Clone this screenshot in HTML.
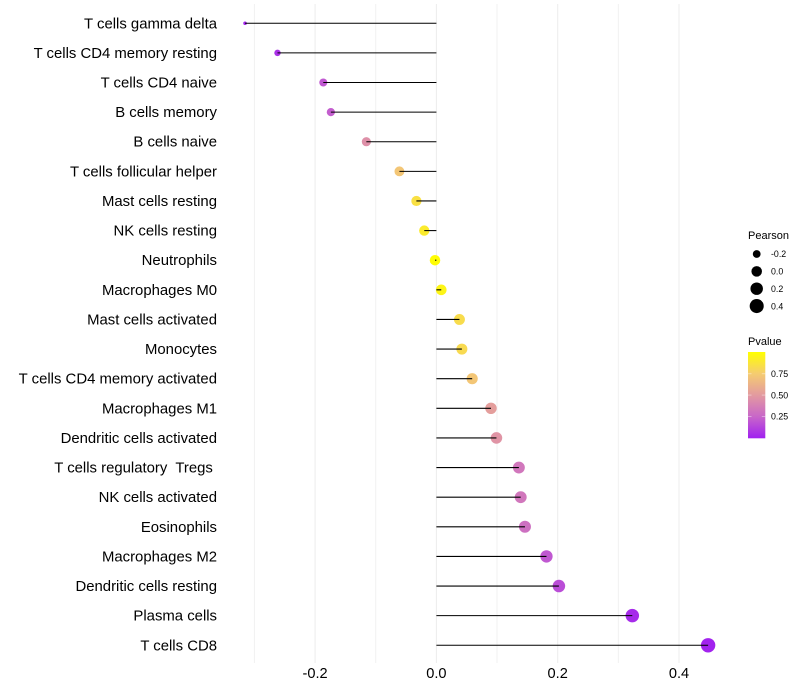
<!DOCTYPE html>
<html lang="en">
<head>
<meta charset="utf-8">
<title>Immune cell correlation lollipop chart</title>
<style>
  html, body { margin: 0; padding: 0; background: #fff; }
  svg { display: block; font-family: "Liberation Sans", Arial, sans-serif; }
  text { white-space: pre; }
</style>
</head>
<body>
<svg id="chart" width="800" height="700" viewBox="0 0 800 700">
  <g id="grid"></g>
  <g id="dots"></g>
  <g id="stems"></g>
  <g id="ylabels"></g>
  <g id="xlabels"></g>
  <g id="size-legend">
    <text x="748" y="239" font-size="11" fill="#000">Pearson</text>
  </g>
  <defs>
    <linearGradient id="pvalue-gradient" x1="0" y1="1" x2="0" y2="0"></linearGradient>
  </defs>
  <g id="color-legend">
    <text x="748" y="345" font-size="11" fill="#000">Pvalue</text>
    <rect x="748" y="352" width="17.3" height="86.3" fill="url(#pvalue-gradient)"></rect>
  </g>
</svg>
<script>
const categories = ["T cells gamma delta","T cells CD4 memory resting","T cells CD4 naive","B cells memory","B cells naive","T cells follicular helper","Mast cells resting","NK cells resting","Neutrophils","Macrophages M0","Mast cells activated","Monocytes","T cells CD4 memory activated","Macrophages M1","Dendritic cells activated","T cells regulatory  Tregs ","NK cells activated","Eosinophils","Macrophages M2","Dendritic cells resting","Plasma cells","T cells CD8"];
const pearson = [-0.3155,-0.262,-0.1865,-0.174,-0.1155,-0.061,-0.033,-0.02,-0.0023,0.008,0.038,0.042,0.059,0.09,0.099,0.136,0.139,0.146,0.1815,0.202,0.323,0.448];
const pvalues = [0.02,0.06,0.2,0.22,0.45,0.72,0.85,0.9,0.99,0.95,0.83,0.82,0.72,0.52,0.47,0.33,0.33,0.3,0.2,0.16,0.04,0.01];
const xTicks = [-0.2,0,0.2,0.4];
const xMinorTicks = [-0.3,-0.1,0.1,0.3];
const sizeLegendValues = [-0.2,0,0.2,0.4];
const colorLegendValues = [0.25,0.5,0.75];

const NS = "http://www.w3.org/2000/svg";
function make(tag, attrs, parent, content) {
  const el = document.createElementNS(NS, tag);
  for (const k in attrs) el.setAttribute(k, attrs[k]);
  if (content !== undefined) el.textContent = content;
  parent.appendChild(el);
  return el;
}
const xScale = v => 436.4 + v * 606.5;
const yScale = i => 23.25 + i * 29.62;
const minP = Math.min(...pearson), maxP = Math.max(...pearson);
function radius(v) {
  const t = Math.max(0, Math.min(1, (v - minP) / (maxP - minP)));
  return 1.8 + 5.4 * Math.sqrt(t);
}
const colorStops = [[160,32,240],[200,102,201],[227,154,160],[245,204,112],[255,255,0]];
function color(p) {
  const t = Math.max(0, Math.min(1, p)) * (colorStops.length - 1);
  const i = Math.min(colorStops.length - 2, Math.floor(t));
  const f = t - i;
  const c = colorStops[i].map((a, k) => Math.round(a + (colorStops[i + 1][k] - a) * f));
  return "rgb(" + c.join(",") + ")";
}

const gridG = document.getElementById("grid");
const dotsG = document.getElementById("dots");
const stemsG = document.getElementById("stems");
const yLabG = document.getElementById("ylabels");
const xLabG = document.getElementById("xlabels");
const sizeG = document.getElementById("size-legend");
const colorG = document.getElementById("color-legend");
const grad = document.getElementById("pvalue-gradient");

xMinorTicks.forEach(v => {
  const l = make("line", {x1: xScale(v), x2: xScale(v), y1: 4, y2: 663, stroke: "#f1f1f1", "stroke-width": 1}, gridG);
  
  
});
xTicks.forEach(v => {
  const l = make("line", {x1: xScale(v), x2: xScale(v), y1: 4, y2: 663, stroke: "#ececec", "stroke-width": 1}, gridG);
  
  
  const t = make("text", {x: xScale(v), y: 678, "text-anchor": "middle", "font-size": 14.6, fill: "#000"}, xLabG, v.toFixed(1));
  
  
});

categories.forEach((name, i) => {
  const y = yScale(i);
  const t = make("text", {x: 217, y: y + 5, "text-anchor": "end", "font-size": 14.9, fill: "#000"}, yLabG, name);
  
  
  const c = make("circle", {cx: xScale(pearson[i]), cy: y, r: radius(pearson[i]), fill: color(pvalues[i])}, dotsG);
  
  
  const s = make("line", {x1: xScale(0), x2: xScale(pearson[i]), y1: y, y2: y, stroke: "#000", "stroke-width": 1.07}, stemsG);
  
  
});

sizeLegendValues.forEach((v, i) => {
  const y = 254 + i * 17.35;
  const c = make("circle", {cx: 756.7, cy: y, r: radius(v), fill: "#000"}, sizeG);
  
  
  const t = make("text", {x: 771, y: y + 3.2, "font-size": 8.8, fill: "#000"}, sizeG, v.toFixed(1));
  
  
});

colorStops.forEach((c, i) => {
  make("stop", {offset: (i / (colorStops.length - 1) * 100) + "%", "stop-color": "rgb(" + c.join(",") + ")"}, grad);
});
colorLegendValues.forEach(v => {
  const y = 437.9 - v * 85.6;
  const a = make("line", {x1: 748, x2: 751.5, y1: y, y2: y, stroke: "#fff", "stroke-opacity": 0.4, "stroke-width": 1}, colorG);
  
  
  const b = make("line", {x1: 761.8, x2: 765.3, y1: y, y2: y, stroke: "#fff", "stroke-opacity": 0.4, "stroke-width": 1}, colorG);
  
  
  const t = make("text", {x: 771, y: y + 3.2, "font-size": 8.8, fill: "#000"}, colorG, v.toFixed(2));
  
  
});
</script>
</body>
</html>
